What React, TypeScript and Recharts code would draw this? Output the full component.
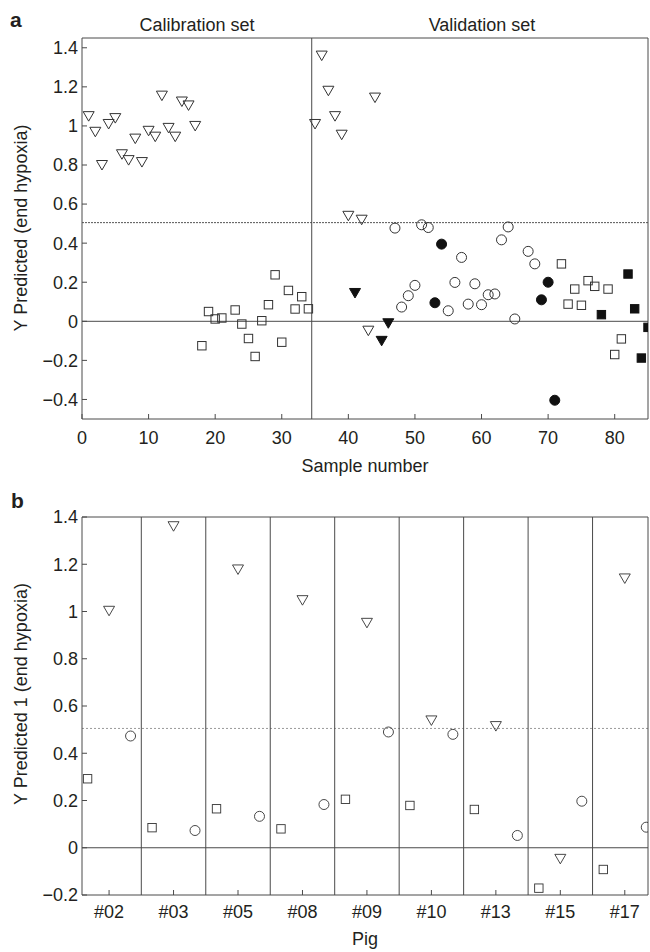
import React from 'react';
import { ScatterChart, Scatter, XAxis, YAxis, ReferenceLine } from 'recharts';

// ---------- Panel a data ----------
const calTriSamples = [1, 2, 3, 4, 5, 6, 7, 8, 9, 10, 11, 12, 13, 14, 15, 16, 17];
const calTriValues = [1.05, 0.97, 0.8, 1.01, 1.04, 0.855, 0.825, 0.935, 0.815, 0.975, 0.945, 1.155, 0.99, 0.945, 1.125, 1.105, 1.0];
const calSqSamples = [18, 19, 20, 21, 23, 24, 25, 26, 27, 28, 29, 30, 31, 32, 33, 34];
const calSqValues = [-0.125, 0.05, 0.012, 0.017, 0.058, -0.014, -0.088, -0.18, 0.003, 0.085, 0.238, -0.107, 0.158, 0.063, 0.126, 0.064];
const valTriSamples = [35, 36, 37, 38, 39, 40, 42, 43, 44];
const valTriValues = [1.01, 1.36, 1.18, 1.05, 0.955, 0.54, 0.52, -0.048, 1.145];
const valTriFilledSamples = [41, 45, 46];
const valTriFilledValues = [0.145, -0.1, -0.01];
const valCircSamples = [47, 48, 49, 50, 51, 52, 55, 56, 57, 58, 59, 60, 61, 62, 63, 64, 65, 67, 68];
const valCircValues = [0.477, 0.073, 0.131, 0.184, 0.494, 0.48, 0.054, 0.199, 0.327, 0.088, 0.192, 0.085, 0.136, 0.14, 0.417, 0.483, 0.012, 0.358, 0.294];
const valCircFilledSamples = [53, 54, 69, 70, 71];
const valCircFilledValues = [0.095, 0.395, 0.11, 0.2, -0.404];
const valSqSamples = [72, 73, 74, 75, 76, 77, 79, 80, 81];
const valSqValues = [0.294, 0.088, 0.165, 0.082, 0.208, 0.179, 0.165, -0.17, -0.09];
const valSqFilledSamples = [78, 82, 83, 84, 85];
const valSqFilledValues = [0.034, 0.242, 0.064, -0.188, -0.031];

const aXTicks = [0, 10, 20, 30, 40, 50, 60, 70, 80];
const aYTicks = [-0.4, -0.2, 0, 0.2, 0.4, 0.6, 0.8, 1, 1.2, 1.4];
const splitSample = 34.5;
const threshold = 0.505;

// ---------- Panel b data ----------
const pigs = ['#02', '#03', '#05', '#08', '#09', '#10', '#13', '#15', '#17'];
const pigSquare = [0.292, 0.085, 0.165, 0.08, 0.205, 0.179, 0.162, -0.171, -0.092];
const pigTriangle = [1.003, 1.361, 1.178, 1.048, 0.952, 0.539, 0.515, -0.047, 1.14];
const pigCircle = [0.473, 0.073, 0.133, 0.183, 0.49, 0.48, 0.052, 0.197, 0.087];
const bYTicks = [-0.2, 0, 0.2, 0.4, 0.6, 0.8, 1, 1.2, 1.4];

const zip = (xs: number[], ys: number[]) => xs.map((x, i) => ({ x, y: ys[i] }));

const FONT = '"Liberation Sans", Arial, Helvetica, sans-serif';
const TXT = '#231f20';
const AX = '#4a4a4a';

const fmt = (v: number) => {
  const r = Math.round(v * 10) / 10;
  const s = String(Math.abs(r));
  return r < 0 ? '\u2212' + s : s;
};

const makeTri = (filled: boolean, sw = 1) => (p: any) => {
  const { cx, cy } = p;
  if (cx == null || cy == null) return <g />;
  return (
    <path
      d={`M${cx - 5.5},${cy - 4.5} L${cx + 5.5},${cy - 4.5} L${cx},${cy + 5} Z`}
      fill={filled ? '#111' : 'none'}
      stroke={filled ? '#111' : '#333'}
      strokeWidth={sw}
    />
  );
};
const makeCirc = (filled: boolean, sw = 1) => (p: any) => {
  const { cx, cy } = p;
  if (cx == null || cy == null) return <g />;
  return <circle cx={cx} cy={cy} r={5} fill={filled ? '#111' : 'none'} stroke={filled ? '#111' : '#333'} strokeWidth={sw} />;
};
const makeSq = (filled: boolean, sw = 1) => (p: any) => {
  const { cx, cy } = p;
  if (cx == null || cy == null) return <g />;
  return <rect x={cx - 4.2} y={cy - 4.2} width={8.4} height={8.4} fill={filled ? '#111' : 'none'} stroke={filled ? '#111' : '#333'} strokeWidth={sw} />;
};

const tickStyle = { fill: TXT, fontSize: 18, fontFamily: FONT };

function PanelA() {
  return (
    <ScatterChart width={650} height={480} margin={{ top: 38, right: 2, bottom: 0, left: 0 }}>
      <XAxis
        xAxisId="main"
        type="number"
        dataKey="x"
        domain={[0, 85]}
        allowDataOverflow
        ticks={aXTicks}
        interval={0}
        tickSize={-5}
        tickMargin={17}
        height={61}
        stroke={AX}
        tick={tickStyle}
        label={{ value: 'Sample number', position: 'insideBottom', offset: 8, fill: TXT, fontSize: 18, fontFamily: FONT }}
      />
      <XAxis xAxisId="top" orientation="top" mirror type="number" domain={[0, 85]} allowDataOverflow ticks={aXTicks} interval={0} tick={false} tickSize={5} stroke={AX} />
      <YAxis
        yAxisId="main"
        type="number"
        dataKey="y"
        domain={[-0.5, 1.45]}
        allowDataOverflow
        ticks={aYTicks}
        interval={0}
        tickSize={-5}
        tickMargin={9}
        width={82}
        stroke={AX}
        tick={tickStyle}
        tickFormatter={fmt}
      />
      <YAxis yAxisId="right" orientation="right" mirror type="number" domain={[-0.5, 1.45]} allowDataOverflow ticks={aYTicks} interval={0} tick={false} tickSize={5} stroke={AX} />
      <ReferenceLine xAxisId="main" yAxisId="main" y={0} stroke={AX} strokeWidth={1} />
      <ReferenceLine xAxisId="main" yAxisId="main" y={threshold} stroke="#555" strokeWidth={1} strokeDasharray="2 1" />
      <ReferenceLine xAxisId="main" yAxisId="main" x={splitSample} stroke={AX} strokeWidth={1} />
      <Scatter xAxisId="main" yAxisId="main" data={zip(calTriSamples, calTriValues)} shape={makeTri(false)} isAnimationActive={false} />
      <Scatter xAxisId="main" yAxisId="main" data={zip(calSqSamples, calSqValues)} shape={makeSq(false)} isAnimationActive={false} />
      <Scatter xAxisId="main" yAxisId="main" data={zip(valTriSamples, valTriValues)} shape={makeTri(false)} isAnimationActive={false} />
      <Scatter xAxisId="main" yAxisId="main" data={zip(valTriFilledSamples, valTriFilledValues)} shape={makeTri(true)} isAnimationActive={false} />
      <Scatter xAxisId="main" yAxisId="main" data={zip(valCircSamples, valCircValues)} shape={makeCirc(false)} isAnimationActive={false} />
      <Scatter xAxisId="main" yAxisId="main" data={zip(valCircFilledSamples, valCircFilledValues)} shape={makeCirc(true)} isAnimationActive={false} />
      <Scatter xAxisId="main" yAxisId="main" data={zip(valSqSamples, valSqValues)} shape={makeSq(false)} isAnimationActive={false} />
      <Scatter xAxisId="main" yAxisId="main" data={zip(valSqFilledSamples, valSqFilledValues)} shape={makeSq(true)} isAnimationActive={false} />
    </ScatterChart>
  );
}

const pigIdx = pigs.map((_, i) => i + 1);
const pigSeps = pigs.slice(1).map((_, i) => i + 1.5);
const pigSquareData = pigs.map((_, i) => ({ x: i + 1 - 1 / 3, y: pigSquare[i] }));
const pigTriData = pigs.map((_, i) => ({ x: i + 1, y: pigTriangle[i] }));
const pigCircData = pigs.map((_, i) => ({ x: i + 1 + 1 / 3, y: pigCircle[i] }));
const bDomain: [number, number] = [0.58, 9.36];

function PanelB() {
  return (
    <ScatterChart width={650} height={472} margin={{ top: 37, right: 2, bottom: 0, left: 0 }}>
      <XAxis
        xAxisId="main"
        type="number"
        dataKey="x"
        domain={bDomain}
        allowDataOverflow
        ticks={pigIdx}
        interval={0}
        tickSize={-5}
        tickMargin={15}
        height={57}
        stroke={AX}
        tick={tickStyle}
        tickFormatter={(v: number) => pigs[Math.round(v) - 1] ?? ''}
        label={{ value: 'Pig', position: 'insideBottom', offset: 7, fill: TXT, fontSize: 18, fontFamily: FONT }}
      />
      <XAxis xAxisId="top" orientation="top" mirror type="number" domain={bDomain} allowDataOverflow ticks={pigIdx} interval={0} tick={false} tickSize={5} stroke={AX} />
      <YAxis
        yAxisId="main"
        type="number"
        dataKey="y"
        domain={[-0.2, 1.4]}
        allowDataOverflow
        ticks={bYTicks}
        interval={0}
        tickSize={-5}
        tickMargin={9}
        width={82}
        stroke={AX}
        tick={tickStyle}
        tickFormatter={fmt}
      />
      <YAxis yAxisId="right" orientation="right" mirror type="number" domain={[-0.2, 1.4]} allowDataOverflow ticks={bYTicks} interval={0} tick={false} tickSize={5} stroke={AX} />
      <ReferenceLine xAxisId="main" yAxisId="main" y={0} stroke={AX} strokeWidth={1} />
      <ReferenceLine xAxisId="main" yAxisId="main" y={threshold} stroke="#999" strokeWidth={1} strokeDasharray="2 2" />
      {pigSeps.map((s) => (
        <ReferenceLine key={s} xAxisId="main" yAxisId="main" x={s} stroke={AX} strokeWidth={1} />
      ))}
      <Scatter xAxisId="main" yAxisId="main" data={pigSquareData} shape={makeSq(false, 0.9)} isAnimationActive={false} />
      <Scatter xAxisId="main" yAxisId="main" data={pigTriData} shape={makeTri(false, 0.9)} isAnimationActive={false} />
      <Scatter xAxisId="main" yAxisId="main" data={pigCircData} shape={makeCirc(false, 0.9)} isAnimationActive={false} />
    </ScatterChart>
  );
}

const abs = (s: React.CSSProperties): React.CSSProperties => ({ position: 'absolute', whiteSpace: 'nowrap', ...s });

export default function App() {
  return (
    <div style={{ position: 'absolute', left: 0, top: 0, width: 650, height: 952, background: '#fff', fontFamily: FONT, color: TXT, overflow: 'hidden' }}>
      <div style={abs({ left: 0, top: 0 })}>
        <PanelA />
      </div>
      <div style={abs({ left: 0, top: 480 })}>
        <PanelB />
      </div>
      <div style={abs({ left: 10, top: 9, fontSize: 21, fontWeight: 'bold', lineHeight: '21px' })}>a</div>
      <div style={abs({ left: 11, top: 490, fontSize: 21, fontWeight: 'bold', lineHeight: '21px' })}>b</div>
      <div style={abs({ left: 197, top: 25, fontSize: 18, lineHeight: '18px', transform: 'translate(-50%, -50%)' })}>Calibration set</div>
      <div style={abs({ left: 482, top: 25, fontSize: 18, lineHeight: '18px', transform: 'translate(-50%, -50%)' })}>Validation set</div>
      <div style={abs({ left: 21, top: 228, fontSize: 18, lineHeight: '18px', transform: 'translate(-50%, -50%) rotate(-90deg)' })}>Y Predicted (end hypoxia)</div>
      <div style={abs({ left: 21, top: 694, fontSize: 18, lineHeight: '18px', transform: 'translate(-50%, -50%) rotate(-90deg)' })}>Y Predicted 1 (end hypoxia)</div>
    </div>
  );
}
